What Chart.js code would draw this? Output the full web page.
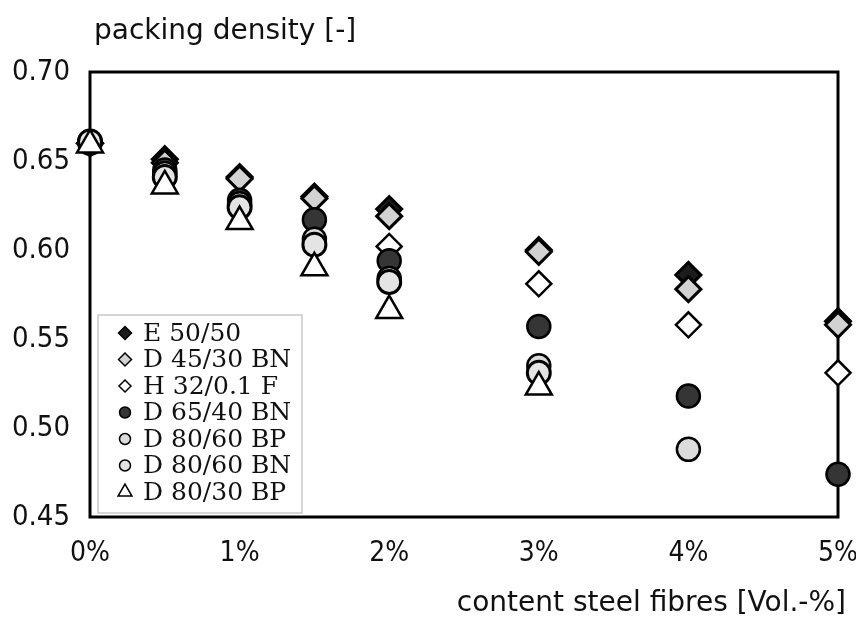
<!DOCTYPE html>
<html>
<head>
<meta charset="utf-8">
<script src="https://cdn.jsdelivr.net/npm/chart.js@4.4.1/dist/chart.umd.min.js"></script>
<style>
  html, body { margin: 0; padding: 0; background: #fff; }
  #wrap { width: 856px; height: 628px; }
</style>
</head>
<body>
<div id="wrap"><canvas id="packingChart"></canvas></div>
<script>
// ---- data ----
const fibreContent = [0, 0.5, 1, 1.5, 2, 3, 4, 5];   // Vol.-%
const yTicks = [0.45, 0.50, 0.55, 0.60, 0.65, 0.70];

const e5050    = [0.660, 0.651, 0.641, 0.630, 0.623, 0.600, 0.586, 0.560];
const d4530bn  = [0.660, 0.649, 0.640, 0.629, 0.619, 0.599, 0.578, 0.558];
const h3201f   = [0.660, null,  null,  null,  0.602, 0.581, 0.558, 0.531];
const d6540bn  = [0.660, 0.645, 0.628, 0.617, 0.594, 0.557, 0.518, 0.474];
const d8060bp  = [0.661, 0.643, 0.626, 0.606, 0.584, 0.535, 0.488, null];
const d8060bn  = [0.661, 0.641, 0.624, 0.603, 0.582, 0.531, null,  null];
const d8030bp  = [0.659, 0.636, 0.616, 0.590, 0.566, 0.523, null,  null];

const toPoints = vals => fibreContent
  .map((x, i) => ({ x, y: vals[i] }))
  .filter(p => p.y != null);

// marker look per series (r = plot size, lr = legend size)
const seriesDefs = [
  { label: "E 50/50",     vals: e5050,   style: "rectRot",  fill: "#1c1c1c", bw: 3,   r: 12.5, lr: 6.5 },
  { label: "D 45/30 BN",  vals: d4530bn, style: "rectRot",  fill: "#d2d2d2", bw: 3,   r: 12.5, lr: 6.5 },
  { label: "H 32/0.1 F",  vals: h3201f,  style: "rectRot",  fill: "#ffffff", bw: 2.5, r: 12.5, lr: 6 },
  { label: "D 65/40 BN",  vals: d6540bn, style: "circle",   fill: "#353535", bw: 2.5, r: 11.5, lr: 5.5 },
  { label: "D 80/60 BP",  vals: d8060bp, style: "circle",   fill: "#dcdcdc", bw: 2.5, r: 11.5, lr: 5.5 },
  { label: "D 80/60 BN",  vals: d8060bn, style: "circle",   fill: "#e4e4e4", bw: 3,   r: 11.5, lr: 5.5 },
  { label: "D 80/30 BP",  vals: d8030bp, style: "triangle", fill: "#ffffff", bw: 2.5, r: 15,   lr: 8 }
];

const datasets = seriesDefs.map((s, i) => ({
  label: s.label,
  data: toPoints(s.vals),
  pointStyle: s.style,
  pointRadius: s.r,
  pointHoverRadius: s.r,
  pointBackgroundColor: s.fill,
  pointBorderColor: "#000",
  pointBorderWidth: s.bw,
  showLine: false,
  clip: false,
  order: seriesDefs.length - i   // first legend entry sits at the back
}));

const narrow = "'Liberation Sans Narrow', 'DejaVu Sans Condensed', sans-serif";
const labelFont = "28px 'DejaVu Sans', 'Noto Sans', sans-serif";
const legendFont = "25px 'DejaVu Serif', 'Liberation Serif', serif";

// frame + axis titles + inset legend
const decorPlugin = {
  id: "decor",
  beforeDatasetsDraw(chart) {
    const { ctx, chartArea: a } = chart;
    ctx.save();
    ctx.strokeStyle = "#000";
    ctx.lineWidth = 3;
    ctx.strokeRect(a.left, a.top, a.right - a.left, a.bottom - a.top);
    ctx.restore();
  },
  afterDraw(chart) {
    const { ctx, chartArea: a } = chart;
    ctx.save();
    ctx.fillStyle = "#111";
    ctx.font = labelFont;
    ctx.textBaseline = "middle";
    ctx.textAlign = "left";
    ctx.fillText("packing density [-]", a.left + 4, 32);
    ctx.textAlign = "right";
    ctx.fillText("content steel fibres [Vol.-%]", a.right + 8, 604);

    // legend box
    const bx = a.left + 8, by = a.bottom - 202, bw = 204, bh = 198;
    ctx.fillStyle = "#fff";
    ctx.fillRect(bx, by, bw, bh);
    ctx.strokeStyle = "#c8c8c8";
    ctx.lineWidth = 1.5;
    ctx.strokeRect(bx, by, bw, bh);

    ctx.font = legendFont;
    ctx.textAlign = "left";
    seriesDefs.forEach((s, i) => {
      const y = by + 18 + i * 26.5;
      ctx.fillStyle = s.fill;
      ctx.strokeStyle = "#000";
      Chart.helpers.drawPoint(ctx, {
        pointStyle: s.style, radius: s.lr, rotation: 0, borderWidth: 2.5
      }, bx + 27, y);
      ctx.fillStyle = "#111";
      ctx.fillText(s.label, bx + 45, y + 1);
    });
    ctx.restore();
  }
};

new Chart(document.getElementById("packingChart"), {
  type: "scatter",
  data: { datasets },
  options: {
    responsive: true,
    maintainAspectRatio: false,
    animation: false,
    layout: { padding: { top: 72, right: 0, left: 0, bottom: 0 } },
    plugins: {
      legend: { display: false },
      tooltip: { enabled: false }
    },
    scales: {
      x: {
        type: "linear",
        min: 0, max: 5,
        grid: { display: false, drawTicks: false },
        border: { display: false },
        ticks: {
          stepSize: 1,
          padding: 20,
          color: "#111",
          font: { family: narrow, size: 28 },
          callback: v => v + "%"
        },
        afterFit: scale => {
          scale.height = 111;
          scale.paddingLeft = 0;
          scale.paddingRight = 18;
        }
      },
      y: {
        type: "linear",
        min: yTicks[0], max: yTicks[yTicks.length - 1],
        grid: { display: false, drawTicks: false },
        border: { display: false },
        afterBuildTicks: scale => { scale.ticks = yTicks.map(v => ({ value: v })); },
        ticks: {
          padding: 20,
          color: "#111",
          font: { family: narrow, size: 29 },
          callback: v => v.toFixed(2)
        },
        afterFit: scale => { scale.width = 90; }
      }
    }
  },
  plugins: [decorPlugin]
});
</script>
</body>
</html>
